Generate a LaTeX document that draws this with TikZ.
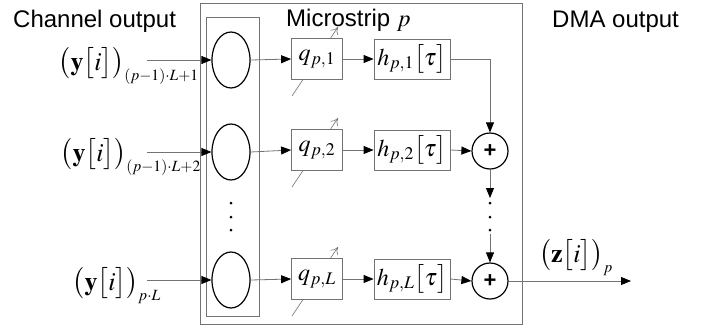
\documentclass[tikz,border=0pt]{standalone}
\usepackage{mathptmx}
\usepackage[no-math]{fontspec}
\setmainfont{Liberation Sans}
\usetikzlibrary{arrows.meta, shapes.geometric}

\begin{document}
\begin{tikzpicture}[x=1pt, y=-1pt,
  wire/.style={draw=black!55, line width=0.8pt, -{Triangle[length=10pt, width=8pt, color=black]}},
  frame/.style={draw=black!55, line width=0.8pt},
  ell/.style={draw, ellipse, line width=1.2pt, minimum width=38pt, minimum height=56pt, inner sep=0},
  qbox/.style={draw=black!55, line width=0.8pt, fill=white, minimum width=51pt, minimum height=41pt, inner sep=0, font=\fontsize{24}{28}\selectfont},
  hbox/.style={qbox, minimum width=76pt, minimum height=40pt},
  sum/.style={draw, circle, line width=1.2pt, minimum size=36pt, inner sep=0, font=\fontsize{22}{26}\selectfont\bfseries},
  tune/.style={draw=black!55, line width=0.6pt, -{To[length=7pt, width=9pt]}},
  head/.style={anchor=base west, inner sep=0, font=\fontsize{24}{28}\selectfont},
  sig/.style={inner sep=0, font=\fontsize{26}{30}\selectfont}]

\useasboundingbox (0,0) rectangle (713,330);

% titles

\node[head] (chan) at (13,27) {Channel output};
\node[head] (strip) at (286,26) {Microstrip $p$};
\node[head] (dma) at (552,27) {DMA output};

% frames

\draw[frame] (200,3) rectangle (522,324);
\draw[frame] (206,17) rectangle (259,316);

% tuning marks (drawn under the boxes)

\draw[tune] (292,96) -- (338,27);
\draw[tune] (292,187) -- (338,118);
\draw[tune] (292,316) -- (338,247);

% input nodes

\node[sig, anchor=base east] (y1) at (199,70) {$\bigl(\mathbf{y}\bigl[i\bigr]\bigr)_{\scriptscriptstyle(p-1)\cdot L+1}$};
\node[sig, anchor=base east] (y2) at (201,161) {$\bigl(\mathbf{y}\bigl[i\bigr]\bigr)_{\scriptscriptstyle(p-1)\cdot L+2}$};
\node[sig, anchor=base east] (y3) at (161,290) {$\bigl(\mathbf{y}\bigl[i\bigr]\bigr)_{\scriptscriptstyle p\cdot L}$};

\coordinate (in1) at (147,60);
\coordinate (in2) at (147,152);
\coordinate (in3) at (147,280);

\node[ell] (e1) at (231,60) {};
\node[ell] (e2) at (231,152) {};
\node[ell] (e3) at (231,280) {};

\fill (231,203) circle (1.5pt);
\fill (231,217) circle (1.5pt);
\fill (231,230) circle (1.5pt);

% weight and filter nodes

\node[qbox] (q1) at (317,59) {$q_{p,1}$};
\node[qbox] (q2) at (317,150) {$q_{p,2}$};
\node[qbox] (q3) at (317,279) {$q_{p,L}$};

\node[hbox] (h1) at (412,59) {$h_{p,1}\bigl[\tau\bigr]$};
\node[hbox] (h2) at (412,150) {$h_{p,2}\bigl[\tau\bigr]$};
\node[hbox] (h3) at (412,279) {$h_{p,L}\bigl[\tau\bigr]$};

% adders and output

\node[sum] (s1) at (490,151) {+};
\node[sum] (s2) at (490,281) {+};

\coordinate (d1) at (490,198);
\coordinate (d2) at (490,234);
\fill (490,203) circle (1.5pt);
\fill (490,217) circle (1.5pt);
\fill (490,230) circle (1.5pt);

\node[sig, anchor=base] (z) at (576,262) {$\bigl(\mathbf{z}\bigl[i\bigr]\bigr)_{\scriptscriptstyle p}$};
\coordinate (out) at (631,281);

% connectors
\draw[wire] (in1) -- (e1.west);
\draw[wire] (in2) -- (e2.west);
\draw[wire] (in3) -- (e3.west);

\draw[wire] (e1.east) -- (q1.west);
\draw[wire] (e2.east) -- (q2.west);
\draw[wire] (e3.east) -- (q3.west);

\draw[wire] (q1.east) -- (h1.west);
\draw[wire] (q2.east) -- (h2.west);
\draw[wire] (q3.east) -- (h3.west);

\draw[wire] (h1.east) -| (s1.north);
\draw[wire] (h2.east) -- (s1.west);
\draw[wire] (h3.east) -- (s2.west);

\draw[wire] (s1.south) -- (d1);
\draw[wire] (d2) -- (s2.north);
\draw[wire] (s2.east) -- (out);

\end{tikzpicture}
\end{document}
